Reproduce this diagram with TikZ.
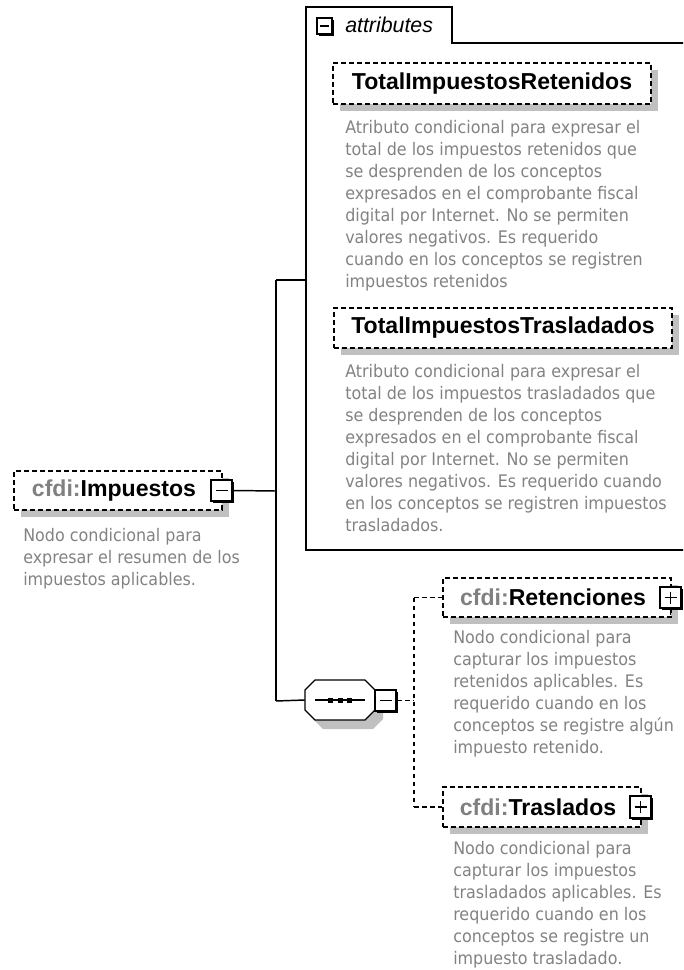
\documentclass[tikz,border=0pt]{standalone}
\usepackage{fontspec}
\setmainfont{Liberation Sans}
\newfontfamily\descfont[FakeStretch=0.92]{DejaVu Sans}
\usetikzlibrary{shadows}
\definecolor{descgray}{RGB}{130,130,130}
\definecolor{nsgray}{RGB}{128,128,128}
\definecolor{shadowgray}{RGB}{192,192,192}
\tikzset{
  elem/.style={draw, line width=1pt, dash pattern=on 3.5pt off 2.5pt, fill=white, inner sep=0pt,
    drop shadow={shadow xshift=5.25pt, shadow yshift=-5.25pt, fill=shadowgray, opacity=1},
    font=\bfseries\fontsize{17.3}{20}\selectfont},
  btn/.style={draw, line width=1.3pt, fill=white, minimum size=16pt, inner sep=0pt,
    drop shadow={shadow xshift=1.6pt, shadow yshift=-1.6pt, fill=black, opacity=1}},
  desc/.style={anchor=north west, inner sep=0pt, align=left, text=descgray,
    font=\descfont\fontsize{13}{16.5}\selectfont},
  conn/.style={line width=1.1pt},
  dconn/.style={line width=1.1pt, dash pattern=on 3.5pt off 2.5pt},
  sign/.style={line width=1.1pt}
}
\begin{document}
\begin{tikzpicture}[x=0.75pt,y=-0.75pt]
\useasboundingbox (0,0) rectangle (683,970);
\clip (0,0) rectangle (683,970);
% attributes group box
\draw[line width=1.2pt] (700,43) -- (452,43) -- (452,7) -- (306,7) -- (306,550) -- (700,550);
\coordinate (attr) at (306,280);
\node[btn, minimum size=11.5pt] (attrbtn) at (324.5,26) {};
\draw[sign] ([xshift=-3.5pt]attrbtn.center) -- ([xshift=3.5pt]attrbtn.center);
\node[anchor=base west, inner sep=0pt, font=\itshape\fontsize{16}{19}\selectfont] (attrlbl) at (345,33) {attributes};

\node[elem, minimum width=238.5pt, minimum height=30.75pt] (tir) at (492,83.5) {TotalImpuestosRetenidos};
\node[desc] (tirdesc) at (345,120) {Atributo condicional para expresar el\\total de los impuestos retenidos que\\se desprenden de los conceptos\\expresados en el comprobante fiscal\\digital por Internet. No se permiten\\valores negativos. Es requerido\\cuando en los conceptos se registren\\impuestos retenidos};

\node[elem, minimum width=253.5pt, minimum height=30pt] (tit) at (503,328) {TotalImpuestosTrasladados};
\node[desc] (titdesc) at (345,364) {Atributo condicional para expresar el\\total de los impuestos trasladados que\\se desprenden de los conceptos\\expresados en el comprobante fiscal\\digital por Internet. No se permiten\\valores negativos. Es requerido cuando\\en los conceptos se registren impuestos\\trasladados.};

% root element
\node[elem, minimum width=156pt, minimum height=29.25pt] (imp) at (118,490.5) {\textcolor{nsgray}{cfdi:}Impuestos\kern6pt};
\node[btn] (impbtn) at ([xshift=-0.75pt]imp.east) {};
\draw[sign] ([xshift=-4.5pt]impbtn.center) -- ([xshift=4.5pt]impbtn.center);
\node[desc] (impdesc) at (23,528) {Nodo condicional para\\expresar el resumen de los\\impuestos aplicables.};

% connectors from root
\coordinate (j) at (276,491);
\coordinate (jtop) at (276,280);
\coordinate (jbot) at (276,701);
\draw[conn] (impbtn.east) -- (j);
\draw[conn] (jtop) -- (jbot);
\draw[conn] (jtop) -- (attr);

% sequence compositor
\fill[shadowgray] (313,699) -- (323,689) -- (373,689) -- (383,699) -- (383,719) -- (373,729) -- (323,729) -- (313,719) -- cycle;
\draw[line width=1pt, fill=white] (305,690) -- (315,680) -- (365,680) -- (375,690) -- (375,710) -- (365,720) -- (315,720) -- (305,710) -- cycle;
\node[inner sep=0pt, minimum width=52.5pt, minimum height=30pt] (seq) at (340,700) {};
\draw[line width=1pt] (315,700) -- (365,700);
\fill (327.5,697.5) rectangle (332.5,702.5);
\fill (337.5,697.5) rectangle (342.5,702.5);
\fill (346.5,697.5) rectangle (351.5,702.5);
\draw[conn] (jbot) -- (seq.west);
\node[btn] (seqbtn) at (385.5,700.5) {};
\draw[sign] ([xshift=-4.5pt]seqbtn.center) -- ([xshift=4.5pt]seqbtn.center);

\coordinate (k) at (414,700.5);
\coordinate (kret) at (414,597.5);
\coordinate (ktra) at (414,807);
\draw[dconn] (seqbtn.east) -- (k);
\draw[dconn] (kret) -- (ktra);

% children
\node[elem, minimum width=171pt, minimum height=29.25pt] (ret) at (557,597.5) {\textcolor{nsgray}{cfdi:}Retenciones\kern6pt};
\node[btn] (retbtn) at ([xshift=-0.75pt]ret.east) {};
\draw[sign] ([xshift=-4.5pt]retbtn.center) -- ([xshift=4.5pt]retbtn.center);
\draw[sign] ([yshift=-4.5pt]retbtn.center) -- ([yshift=4.5pt]retbtn.center);
\draw[conn] (retbtn.south) -- ++(0,6);
\draw[dconn] (kret) -- (ret.west);
\node[desc] (retdesc) at (453,630) {Nodo condicional para\\capturar los impuestos\\retenidos aplicables. Es\\requerido cuando en los\\conceptos se registre algún\\impuesto retenido.};

\node[elem, minimum width=148.5pt, minimum height=30pt] (tra) at (542,807) {\textcolor{nsgray}{cfdi:}Traslados\kern6pt};
\node[btn] (trabtn) at ([xshift=-0.75pt]tra.east) {};
\draw[sign] ([xshift=-4.5pt]trabtn.center) -- ([xshift=4.5pt]trabtn.center);
\draw[sign] ([yshift=-4.5pt]trabtn.center) -- ([yshift=4.5pt]trabtn.center);
\draw[conn] (trabtn.south) -- ++(0,6);
\draw[dconn] (ktra) -- (tra.west);
\node[desc] (tradesc) at (453,841) {Nodo condicional para\\capturar los impuestos\\trasladados aplicables. Es\\requerido cuando en los\\conceptos se registre un\\impuesto trasladado.};
\end{tikzpicture}
\end{document}
